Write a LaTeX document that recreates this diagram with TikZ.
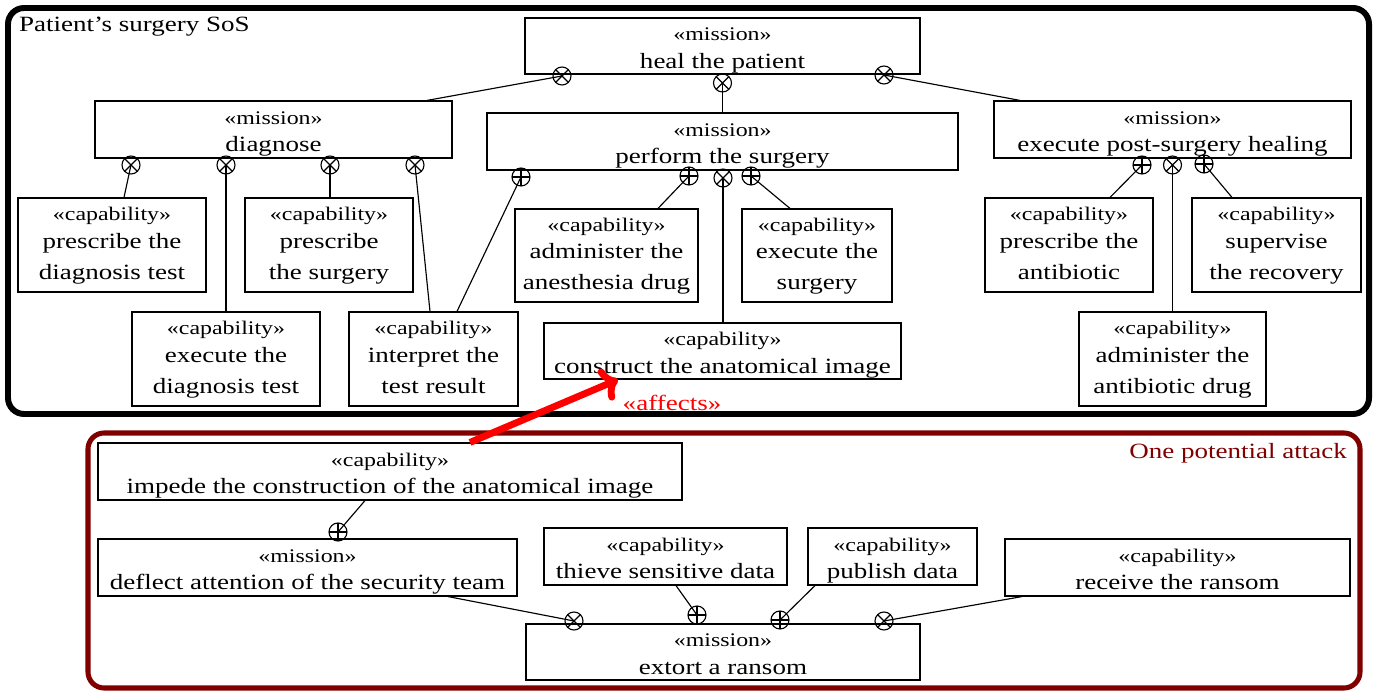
\documentclass[tikz,border=0pt,12pt]{standalone}
\usepackage{fontspec}
\setmainfont{Liberation Serif}[FakeStretch=1.24]
\usetikzlibrary{calc,arrows.meta}

\newdimen\px \px=0.436pt
% stereotype + name, for the two-line and three-line boxes
\newcommand{\stereo}[1]{{\fontsize{8.4}{10}\selectfont «#1»}}
\newcommand{\twoline}[2]{\rule{0pt}{9.5pt}\stereo{#1}\\[-1.5pt]#2\rule[-2.2pt]{0pt}{2.2pt}}
\newcommand{\threeline}[3]{\rule{0pt}{6.7pt}\stereo{#1}\\[-1.5pt]#2\\#3\rule[-2.2pt]{0pt}{2.2pt}}
\definecolor{attackred}{RGB}{128,0,0}

\tikzset{
  block/.style={draw, line width=0.5pt, rectangle, align=center, inner xsep=1pt, inner ysep=0pt,
    font=\fontsize{9.5}{13.5}\selectfont},
  boxsize/.style 2 args={minimum width=#1\px, minimum height=#2\px},
  mission/.style={block},
  capa/.style={block},
  andop/.style={circle, draw, line width=0.5pt, inner sep=0pt, minimum size=18\px,
    path picture={\draw (path picture bounding box.north west) -- (path picture bounding box.south east)
      (path picture bounding box.north east) -- (path picture bounding box.south west);}},
  orop/.style={circle, draw, line width=0.5pt, inner sep=0pt, minimum size=18\px,
    path picture={\draw (path picture bounding box.north) -- (path picture bounding box.south)
      (path picture bounding box.west) -- (path picture bounding box.east);}},
  link/.style={line width=0.5pt},
  sosframe/.style={line width=2.6pt, rounded corners=7pt},
  attackframe/.style={line width=2.2pt, rounded corners=7pt, draw=attackred},
  affects/.style={red, line width=3pt, -{To[length=7pt,width=15pt]}}
}

\begin{document}
\begin{tikzpicture}[x=\px, y=-\px, font=\fontsize{9.5}{12}\selectfont]
  \useasboundingbox (0,0) rectangle (1376,691);

  % frames
  \draw[sosframe] (8,8) rectangle (1369,414);
  \node[anchor=west, inner sep=2pt] (sosname) at (14,27) {Patient's surgery SoS};
  \draw[attackframe] (88,433) rectangle (1360,688);
  \node[anchor=east, inner sep=2pt, text=attackred] (attackname) at (1352,453) {One potential attack};

  % missions of the SoS
  \node[mission, boxsize={395}{56}] (heal) at (722.5,46) {\twoline{mission}{heal the patient}};
  \node[mission, boxsize={357}{57}] (diag) at (273.5,129.5) {\twoline{mission}{diagnose}};
  \node[mission, boxsize={471}{57}] (perf) at (722.5,141.5) {\twoline{mission}{perform the surgery}};
  \node[mission, boxsize={357}{57}] (post) at (1172.5,129.5) {\twoline{mission}{execute post-surgery healing}};

  % capabilities of the SoS
  \node[capa, boxsize={188}{94}] (prdiag) at (112,245) {\threeline{capability}{prescribe the}{diagnosis test}};
  \node[capa, boxsize={168}{94}] (prsurg) at (329,245) {\threeline{capability}{prescribe}{the surgery}};
  \node[capa, boxsize={188}{94}] (exdiag) at (226,359) {\threeline{capability}{execute the}{diagnosis test}};
  \node[capa, boxsize={169}{94}] (interp) at (433.5,359) {\threeline{capability}{interpret the}{test result}};
  \node[capa, boxsize={183}{93}] (anest) at (606.5,255.5) {\threeline{capability}{administer the}{anesthesia drug}};
  \node[capa, boxsize={150}{93}] (exsurg) at (817,255.5) {\threeline{capability}{execute the}{surgery}};
  \node[capa, boxsize={357}{56}] (image) at (722.5,351) {\twoline{capability}{construct the anatomical image}};
  \node[capa, boxsize={168}{94}] (prantib) at (1069,245) {\threeline{capability}{prescribe the}{antibiotic}};
  \node[capa, boxsize={169}{94}] (superv) at (1276.5,245) {\threeline{capability}{supervise}{the recovery}};
  \node[capa, boxsize={187}{94}] (adantib) at (1172.5,359) {\threeline{capability}{administer the}{antibiotic drug}};

  % attack
  \node[capa, boxsize={584}{57}] (impede) at (390,471.5) {\twoline{capability}{impede the construction of the anatomical image}};
  \node[mission, boxsize={419}{57}] (deflect) at (307.5,567.5) {\twoline{mission}{deflect attention of the security team}};
  \node[capa, boxsize={243}{57}] (thieve) at (665.5,556.5) {\twoline{capability}{thieve sensitive data}};
  \node[capa, boxsize={169}{57}] (publish) at (892.5,556.5) {\twoline{capability}{publish data}};
  \node[capa, boxsize={345}{57}] (ransom) at (1177.5,567.5) {\twoline{capability}{receive the ransom}};
  \node[mission, boxsize={394}{56}] (extort) at (723,652) {\twoline{mission}{extort a ransom}};

  % decomposition operators
  \node[andop] (o1) at (562,76) {};
  \node[andop] (o2) at (722.5,83) {};
  \node[andop] (o3) at (884,75) {};
  \node[andop] (o4) at (131,165) {};
  \node[andop] (o5) at (226,165) {};
  \node[andop] (o6) at (330,165) {};
  \node[andop] (o7) at (415,165) {};
  \node[orop]  (o8) at (521,177) {};
  \node[orop]  (o9) at (689,176) {};
  \node[andop] (o10) at (723,178) {};
  \node[orop]  (o11) at (751,176) {};
  \node[orop]  (o12) at (1142,165) {};
  \node[andop] (o13) at (1172.5,165) {};
  \node[orop]  (o14) at (1204,164) {};
  \node[orop]  (o15) at (338,532) {};
  \node[andop] (o16) at (574,621) {};
  \node[orop]  (o17) at (697,615) {};
  \node[orop]  (o18) at (780,620) {};
  \node[andop] (o19) at (884,621) {};

  \draw[link] (o1.center) -- (427,0 |- diag.north);
  \draw[link] (o2.center) -- (perf.north);
  \draw[link] (o3.center) -- (1020,0 |- post.north);
  \draw[link] (o4.center) -- (124,0 |- prdiag.north);
  \draw[link] (o5.center) -- (exdiag.north);
  \draw[link] (o6.center) -- (330,0 |- prsurg.north);
  \draw[link] (o7.center) -- (430,0 |- interp.north);
  \draw[link] (o8.center) -- (457,0 |- interp.north);
  \draw[link] (o9.center) -- (658,0 |- anest.north);
  \draw[link] (o10.center) -- (723,0 |- image.north);
  \draw[link] (o11.center) -- (790,0 |- exsurg.north);
  \draw[link] (o12.center) -- (1110,0 |- prantib.north);
  \draw[link] (o13.center) -- (adantib.north);
  \draw[link] (o14.center) -- (1232,0 |- superv.north);
  \draw[link] (o15.center) -- (365,0 |- impede.south);
  \draw[link] (o16.center) -- (448,0 |- deflect.south);
  \draw[link] (o17.center) -- (676,0 |- thieve.south);
  \draw[link] (o18.center) -- (815,0 |- publish.south);
  \draw[link] (o19.center) -- (1022,0 |- ransom.south);

  % the attack hits the SoS
  \draw[affects] (470,0 |- impede.north) -- (618,0 |- image.south);
  \node[red, inner sep=1pt] (afflabel) at (672,403) {«affects»};
\end{tikzpicture}
\end{document}
